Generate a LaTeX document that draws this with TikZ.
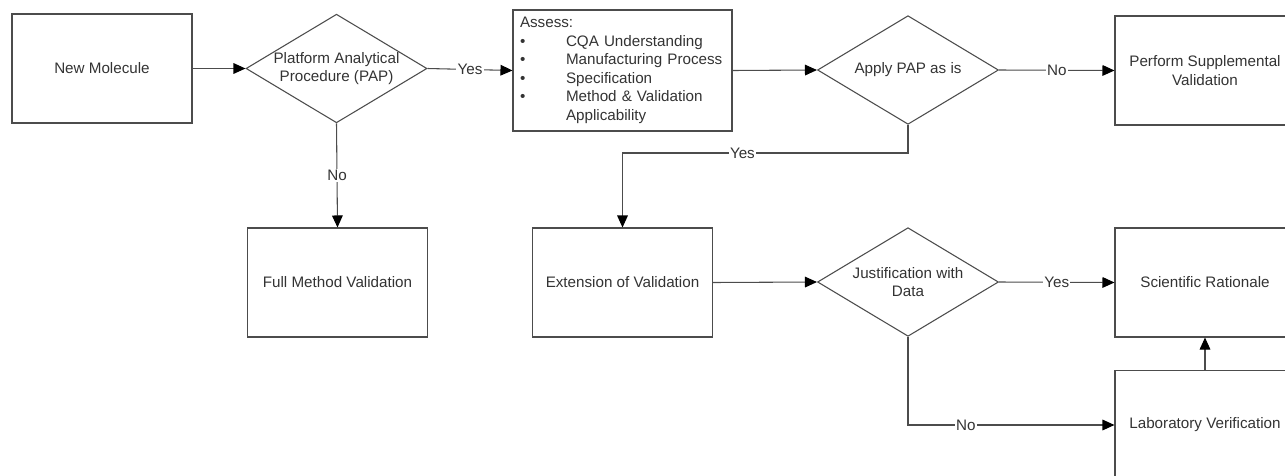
\documentclass[tikz,border=0pt]{standalone}
\usepackage{fontspec}
\setmainfont{Liberation Sans}
\usetikzlibrary{shapes.geometric,arrows.meta}
\begin{document}
\begin{tikzpicture}[x=0.75pt,y=-0.75pt,
  every node/.style={font=\fontsize{11.4}{13.9}\selectfont, text=black!80},
  box/.style={draw=black!70, line width=0.8pt, rectangle, minimum width=135pt,
    minimum height=81.75pt, align=center, inner sep=2pt},
  decision/.style={draw=black!70, line width=0.8pt, diamond, minimum width=135.75pt,
    minimum height=81.5pt, inner sep=0pt},
  flow/.style={draw=black!70, line width=0.8pt, -{Triangle[length=9pt,width=8pt,color=black]}},
  tag/.style={fill=white, inner sep=1pt}]
\useasboundingbox (0,0) rectangle (1285,475);

% top row
\node[box] (nm) at (102,68.5) {New Molecule};
\node[decision, label={[align=center]center:Platform Analytical\\Procedure (PAP)}] (pap) at (336.5,68.5) {};
\node[box, minimum width=164.25pt, minimum height=90.75pt, text width=153.75pt, align=left, inner xsep=5pt] (assess) at (622.5,70.5) {%
  Assess:\\
  \makebox[34.5pt][l]{\textbullet}CQA Understanding\\
  \makebox[34.5pt][l]{\textbullet}Manufacturing Process\\
  \makebox[34.5pt][l]{\textbullet}Specification\\
  \makebox[34.5pt][l]{\textbullet}Method \& Validation\\
  \hspace*{34.5pt}Applicability};
\node[decision, label={[align=center]center:Apply PAP as is}] (apply) at (908,70) {};
\node[box] (perform) at (1205,70.5) {Perform Supplemental\\Validation};

% lower rows
\node[box] (fmv) at (337.5,282.5) {Full Method Validation};
\node[box] (ext) at (622.5,282.5) {Extension of Validation};
\node[decision, label={[align=center]center:Justification with\\Data}] (just) at (908,282) {};
\node[box] (sci) at (1205,282.5) {Scientific Rationale};
\node[box] (lab) at (1205,425) {Laboratory Verification};

\coordinate (ybend) at (0,153);

% connectors
\draw[flow] (nm.east) -- (pap.west);
\draw[flow] (pap.east) -- node[tag]{Yes} (assess.west);
\draw[flow] (pap.south) -- node[tag]{No} (fmv.north);
\draw[flow] (assess.east) -- (apply.west);
\draw[flow] (apply.east) -- node[tag]{No} (perform.west);
\draw[flow] (apply.south) -- (apply.south |- ybend) -- node[tag,pos=0.58]{Yes} (ext.north |- ybend) -- (ext.north);
\draw[flow] (ext.east) -- (just.west);
\draw[flow] (just.east) -- node[tag]{Yes} (sci.west);
\draw[flow] (just.south) |- node[tag,pos=0.64]{No} (lab.west);
\draw[flow] (lab.north) -- (sci.south);
\end{tikzpicture}
\end{document}
